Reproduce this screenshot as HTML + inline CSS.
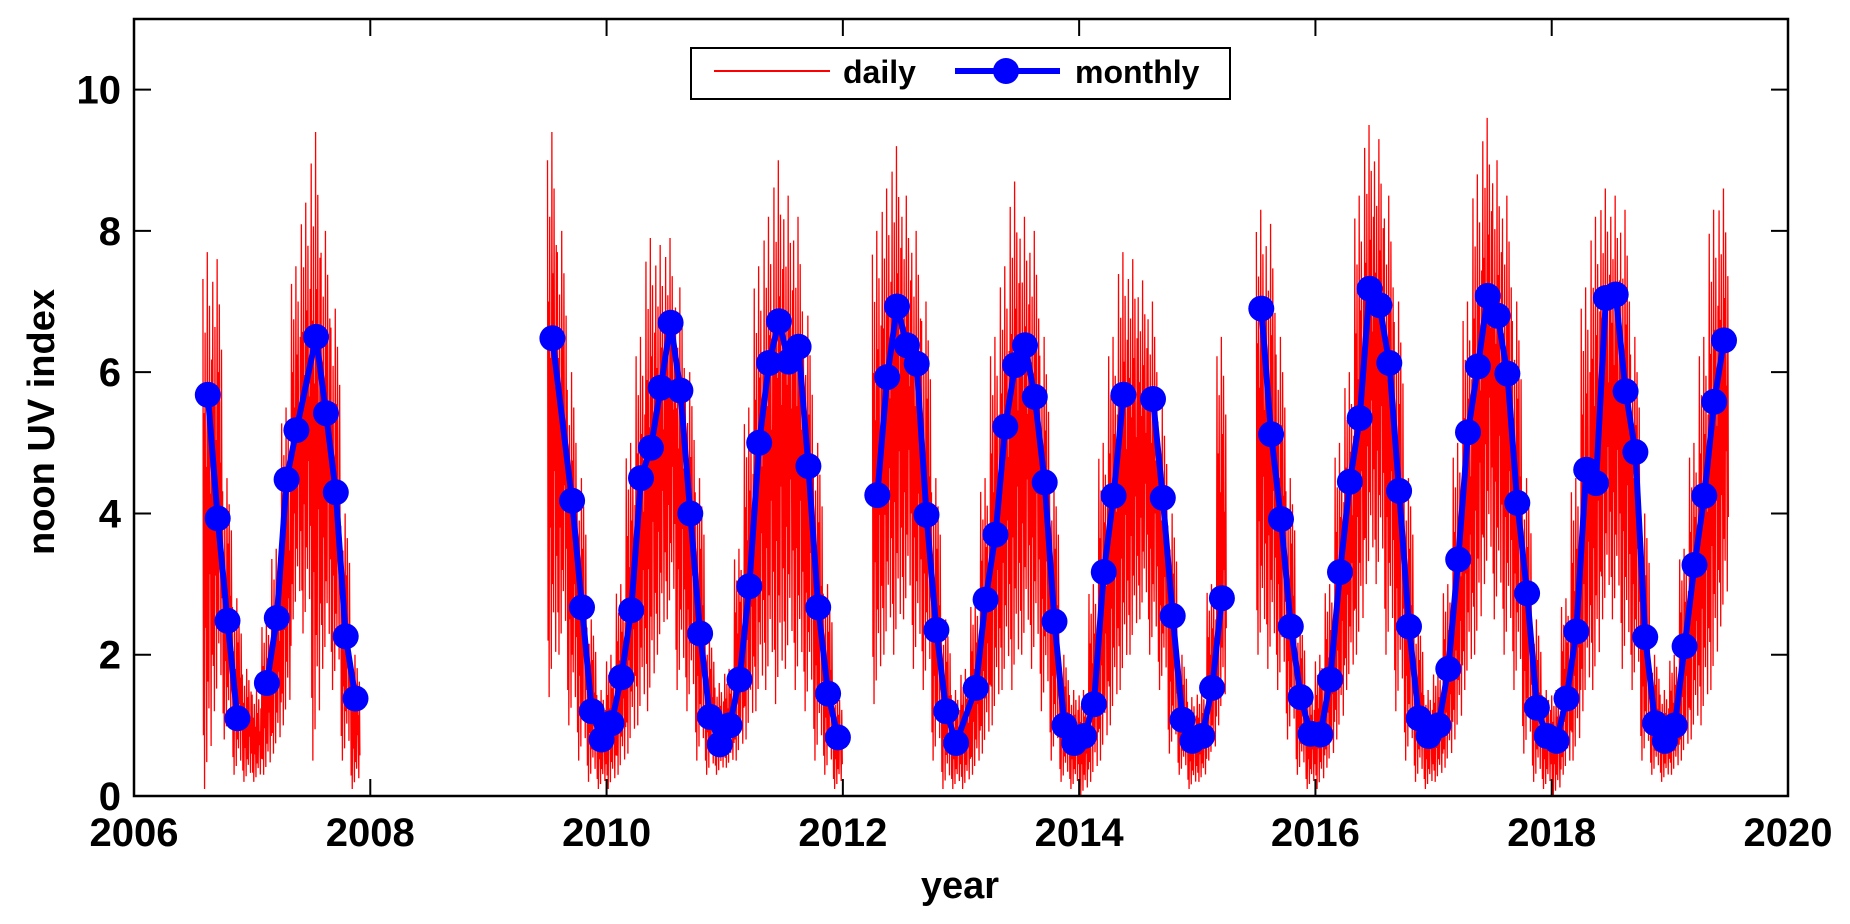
<!DOCTYPE html>
<html><head><meta charset="utf-8"><style>
html,body{margin:0;padding:0;background:#fff;}
svg{display:block;font-family:"Liberation Sans",Arial,sans-serif;font-weight:bold;}
</style></head><body>
<svg id="chart" width="1850" height="924" viewBox="0 0 1850 924" xmlns="http://www.w3.org/2000/svg">
<g id="daily"></g>
<g id="monthly"></g>
<g id="axes"></g>
<g>
<rect x="691" y="48" width="539" height="51" fill="#fff" stroke="#000" stroke-width="2"/>
<line x1="714" y1="71" x2="830" y2="71" stroke="#f00" stroke-width="2"/>
<text x="843" y="83" font-size="32">daily</text>
<line x1="955" y1="71" x2="1060" y2="71" stroke="#00f" stroke-width="6"/>
<circle cx="1006" cy="71" r="13" fill="#00f"/>
<text x="1075" y="83" font-size="32">monthly</text>
</g>
<text x="960" y="898" font-size="38" text-anchor="middle">year</text>
<text transform="translate(54,422) rotate(-90)" font-size="38" text-anchor="middle">noon UV index</text>
</svg>
<script>
// monthly data: month index since Jan 2006, value
const monthIdx = [7,8,9,10,13,14,15,16,18,19,20,21,22,42,44,45,46,47,48,49,50,51,52,53,54,55,56,57,58,59,60,61,62,63,64,65,66,67,68,69,70,71,75,76,77,78,79,80,81,82,83,85,86,87,88,89,90,91,92,93,94,95,96,97,98,99,100,103,104,105,106,107,108,109,110,114,115,116,117,118,119,120,121,122,123,124,125,126,127,128,129,130,131,132,133,134,135,136,137,138,139,140,141,142,143,144,145,146,147,148,149,150,151,152,153,154,155,156,157,158,159,160,161];
const monthVal = [5.68,3.93,2.48,1.10,1.60,2.52,4.48,5.18,6.50,5.42,4.30,2.26,1.38,6.48,4.18,2.67,1.20,0.80,1.03,1.68,2.63,4.50,4.93,5.78,6.70,5.74,4.00,2.30,1.12,0.73,1.00,1.65,2.97,5.00,6.13,6.72,6.15,6.36,4.67,2.67,1.45,0.83,4.26,5.93,6.93,6.38,6.12,3.98,2.35,1.20,0.75,1.53,2.78,3.70,5.23,6.10,6.38,5.65,4.44,2.47,1.00,0.75,0.85,1.30,3.17,4.25,5.68,5.62,4.22,2.55,1.08,0.78,0.85,1.53,2.80,6.90,5.12,3.92,2.40,1.40,0.88,0.87,1.65,3.17,4.45,5.35,7.18,6.95,6.13,4.32,2.40,1.10,0.85,1.00,1.80,3.35,5.15,6.08,7.08,6.80,5.98,4.15,2.87,1.25,0.85,0.78,1.38,2.33,4.62,4.43,7.05,7.10,5.73,4.87,2.25,1.03,0.78,1.00,2.12,3.27,4.25,5.58,6.45];
// daily envelope per month, segments of continuous data
const dailyStart = [7,42,75,114];
const dailyHi = [
[7.7,7.6,4.5,2.8,1.8,1.5,2.5,3.5,5.5,7.5,8.4,9.4,8.0,6.9,4.0,2.0],
[9.4,8.0,6.0,4.5,2.5,1.5,2.0,3.0,5.0,6.5,7.9,7.8,7.9,7.2,6.0,4.5,2.3,1.6,1.8,3.5,5.5,7.5,8.2,9.0,8.5,8.2,6.8,5.0,3.0,1.5],
[8.0,8.6,9.2,8.5,8.0,7.0,4.5,2.5,1.5,1.8,2.8,4.5,6.5,7.5,8.7,8.2,8.0,6.5,4.5,2.0,1.5,1.5,3.0,5.0,6.5,7.7,7.6,7.3,7.0,5.5,4.0,2.0,1.4,1.5,3.0,6.5],
[8.3,8.1,6.5,4.5,2.5,1.5,2.0,3.0,5.0,6.0,8.5,9.5,9.3,8.5,7.0,4.5,2.5,1.5,1.8,3.0,5.0,7.0,8.8,9.6,9.0,8.5,7.0,4.5,2.5,1.5,1.5,2.8,4.5,7.2,8.2,8.6,8.5,8.3,6.5,4.0,2.0,1.5,2.0,3.5,5.0,6.5,8.3,8.6]];
const dailyLo = [
[0.1,1.2,0.8,0.3,0.2,0.2,0.3,0.6,1.0,2.5,2.3,0.5,1.8,1.5,0.5,0.1],
[1.4,2.0,1.0,0.5,0.2,0.1,0.1,0.3,0.6,1.0,1.2,2.0,2.5,1.5,1.2,0.5,0.3,0.3,0.4,0.5,0.8,1.2,1.5,1.3,1.8,1.5,1.2,0.5,0.3,0.1],
[1.3,2.0,2.0,2.5,1.8,1.5,0.5,0.1,0.1,0.1,0.3,0.6,1.0,1.5,1.5,2.0,1.8,1.2,0.5,0.2,0.1,0.0,0.2,0.5,1.0,1.5,2.0,2.5,2.0,1.5,0.6,0.3,0.1,0.2,0.5,1.0],
[2.0,1.8,1.5,0.8,0.3,0.1,0.1,0.4,0.8,1.5,2.0,3.0,3.0,2.0,1.2,0.5,0.2,0.1,0.2,0.4,0.8,1.5,2.0,3.0,2.5,2.0,1.5,0.6,0.2,0.1,0.0,0.3,0.5,1.2,1.5,2.5,2.5,1.8,1.5,0.5,0.3,0.2,0.3,0.5,0.8,1.0,1.5,2.4]];
const xTicks = [2006,2008,2010,2012,2014,2016,2018,2020];
const yTicks = [0,2,4,6,8,10];

const L=134,R=1788,T=19,B=796,X0=2006,X1=2020,Y0=0,Y1=11;
const NS='http://www.w3.org/2000/svg';
function sx(v){return L+(v-X0)/(X1-X0)*(R-L);}
function sy(v){return B-(v-Y0)/(Y1-Y0)*(B-T);}
function mk(tag,attrs,parent){const e=document.createElementNS(NS,tag);for(const k in attrs)e.setAttribute(k,attrs[k]);parent.appendChild(e);return e;}

// daily
const dg=document.getElementById('daily');
const pat=[0.95,0.1,0.7,0.0,0.85,0.3,0.6,0.05,1.0,0.2,0.75,0.15,0.9,0.4,0.55,0.08,0.8,0.25];
const N=pat.length;
dailyStart.forEach((st,s)=>{
  const pts=[];
  dailyHi[s].forEach((h,i)=>{
    const lo=dailyLo[s][i];
    for(let d=0;d<N;d++){
      const yr=2006+(st+i+d/N)/12;
      pts.push(sx(yr).toFixed(2)+','+sy(lo+pat[d]*(h-lo)).toFixed(2));
    }
  });
  const pl=mk('polyline',{points:pts.join(' '),fill:'none',stroke:'#f00','stroke-width':1.3},dg);
  
  
});

// monthly
const mg=document.getElementById('monthly');
let seg=[];const segs=[];
monthIdx.forEach((m,i)=>{
  if(i>0 && m-monthIdx[i-1]>2){segs.push(seg);seg=[];}
  seg.push([sx(2006+(m+0.5)/12),sy(monthVal[i])]);
});
segs.push(seg);
segs.forEach(sg=>{
  const pl=mk('polyline',{points:sg.map(p=>p[0].toFixed(1)+','+p[1].toFixed(1)).join(' '),fill:'none',stroke:'#00f','stroke-width':6,'stroke-linejoin':'round'},mg);
  
  
});
monthIdx.forEach((m,i)=>{
  const c=mk('circle',{cx:sx(2006+(m+0.5)/12).toFixed(1),cy:sy(monthVal[i]).toFixed(1),r:13,fill:'#00f'},mg);
  
  
});

// axes
const ag=document.getElementById('axes');
const box=mk('rect',{x:L,y:T,width:R-L,height:B-T,fill:'none',stroke:'#000','stroke-width':2.5},ag);


xTicks.forEach(t=>{
  const x=sx(t);
  const a=mk('line',{x1:x,y1:B,x2:x,y2:B-17,stroke:'#000','stroke-width':2},ag);
  
  
  const b=mk('line',{x1:x,y1:T,x2:x,y2:T+17,stroke:'#000','stroke-width':2},ag);
  
  
  const tx=mk('text',{x:x,y:846,'font-size':40,'text-anchor':'middle'},ag);
  tx.textContent=t;
  
  
});
yTicks.forEach(t=>{
  const y=sy(t);
  const a=mk('line',{x1:L,y1:y,x2:L+17,y2:y,stroke:'#000','stroke-width':2},ag);
  
  
  const b=mk('line',{x1:R,y1:y,x2:R-17,y2:y,stroke:'#000','stroke-width':2},ag);
  
  
  const tx=mk('text',{x:121,y:y+14,'font-size':40,'text-anchor':'end'},ag);
  tx.textContent=t;
  
  
});
</script>
</body></html>
